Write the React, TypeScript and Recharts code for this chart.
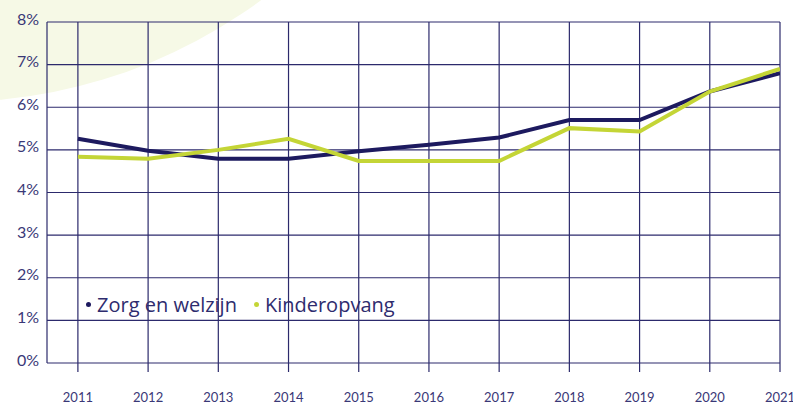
import { LineChart, Line, XAxis, YAxis, CartesianGrid } from "recharts"

const years = [2011, 2012, 2013, 2014, 2015, 2016, 2017, 2018, 2019, 2020, 2021]
const zorgEnWelzijn = [5.26, 4.98, 4.79, 4.79, 4.97, 5.12, 5.29, 5.7, 5.7, 6.37, 6.8]
const kinderopvang = [4.84, 4.79, 5.0, 5.26, 4.74, 4.74, 4.74, 5.51, 5.43, 6.37, 6.9]
const yTicks = [0, 1, 2, 3, 4, 5, 6, 7, 8]

const series = [
  { key: "zorg", name: "Zorg en welzijn", color: "#1d1a5f" },
  { key: "kinder", name: "Kinderopvang", color: "#c4d536" },
]

const data = years.map((year, i) => ({
  year,
  zorg: zorgEnWelzijn[i],
  kinder: kinderopvang[i],
}))

const navy = "#2c2a6c"
const font = "Lato, 'Noto Sans', sans-serif"

function YTick({ x, y, payload }: any) {
  return (
    <text x={x} y={y - 3} dy="0.35em" textAnchor="end" fill="#3a3877" fontSize={16} fontFamily={font}>
      {payload.value}%
    </text>
  )
}

function ChartLegend() {
  return (
    <div
      style={{
        position: "absolute",
        left: 86,
        top: 291,
        display: "flex",
        gap: 17,
        fontFamily: "'Open Sans', sans-serif",
        fontSize: 20,
        color: "#2e2c6e",
        whiteSpace: "nowrap",
      }}
    >
      {series.map((s) => (
        <span key={s.key} style={{ display: "flex", alignItems: "center" }}>
          <span
            style={{
              width: 5,
              height: 5,
              borderRadius: "50%",
              background: s.color,
              marginRight: 6,
              display: "inline-block",
            }}
          />
          {s.name}
        </span>
      ))}
    </div>
  )
}

export default function App() {
  return (
    <div style={{ position: "absolute", left: 0, top: 0, width: 793, height: 406, overflow: "hidden", background: "#fff" }}>
      <div
        style={{
          position: "absolute",
          left: -568,
          top: -938,
          width: 1040,
          height: 1040,
          borderRadius: "50%",
          background: "#f6f9e6",
        }}
      />
      <div style={{ position: "absolute", left: 0, top: 0 }}>
        <LineChart width={793} height={406} data={data} margin={{ top: 22, right: 13, bottom: 0, left: 0 }}>
          <CartesianGrid stroke={navy} strokeWidth={1.2} />
          <XAxis
            dataKey="year"
            type="number"
            domain={[2010.56, 2021]}
            ticks={years}
            height={43}
            axisLine={false}
            tickSize={9}
            tickMargin={21}
            tickLine={{ stroke: navy, strokeWidth: 1.2 }}
            tick={{ fill: "#3a3877", fontSize: 13, fontFamily: font }}
            allowDataOverflow
          />
          <YAxis
            domain={[0, 8]}
            ticks={yTicks}
            width={47}
            axisLine={false}
            tickLine={false}
            tick={<YTick />}
          />
          {series.map((s) => (
            <Line
              key={s.key}
              dataKey={s.key}
              name={s.name}
              stroke={s.color}
              strokeWidth={4}
              dot={false}
              type="linear"
              isAnimationActive={false}
            />
          ))}
        </LineChart>
      </div>
      <ChartLegend />
    </div>
  )
}
